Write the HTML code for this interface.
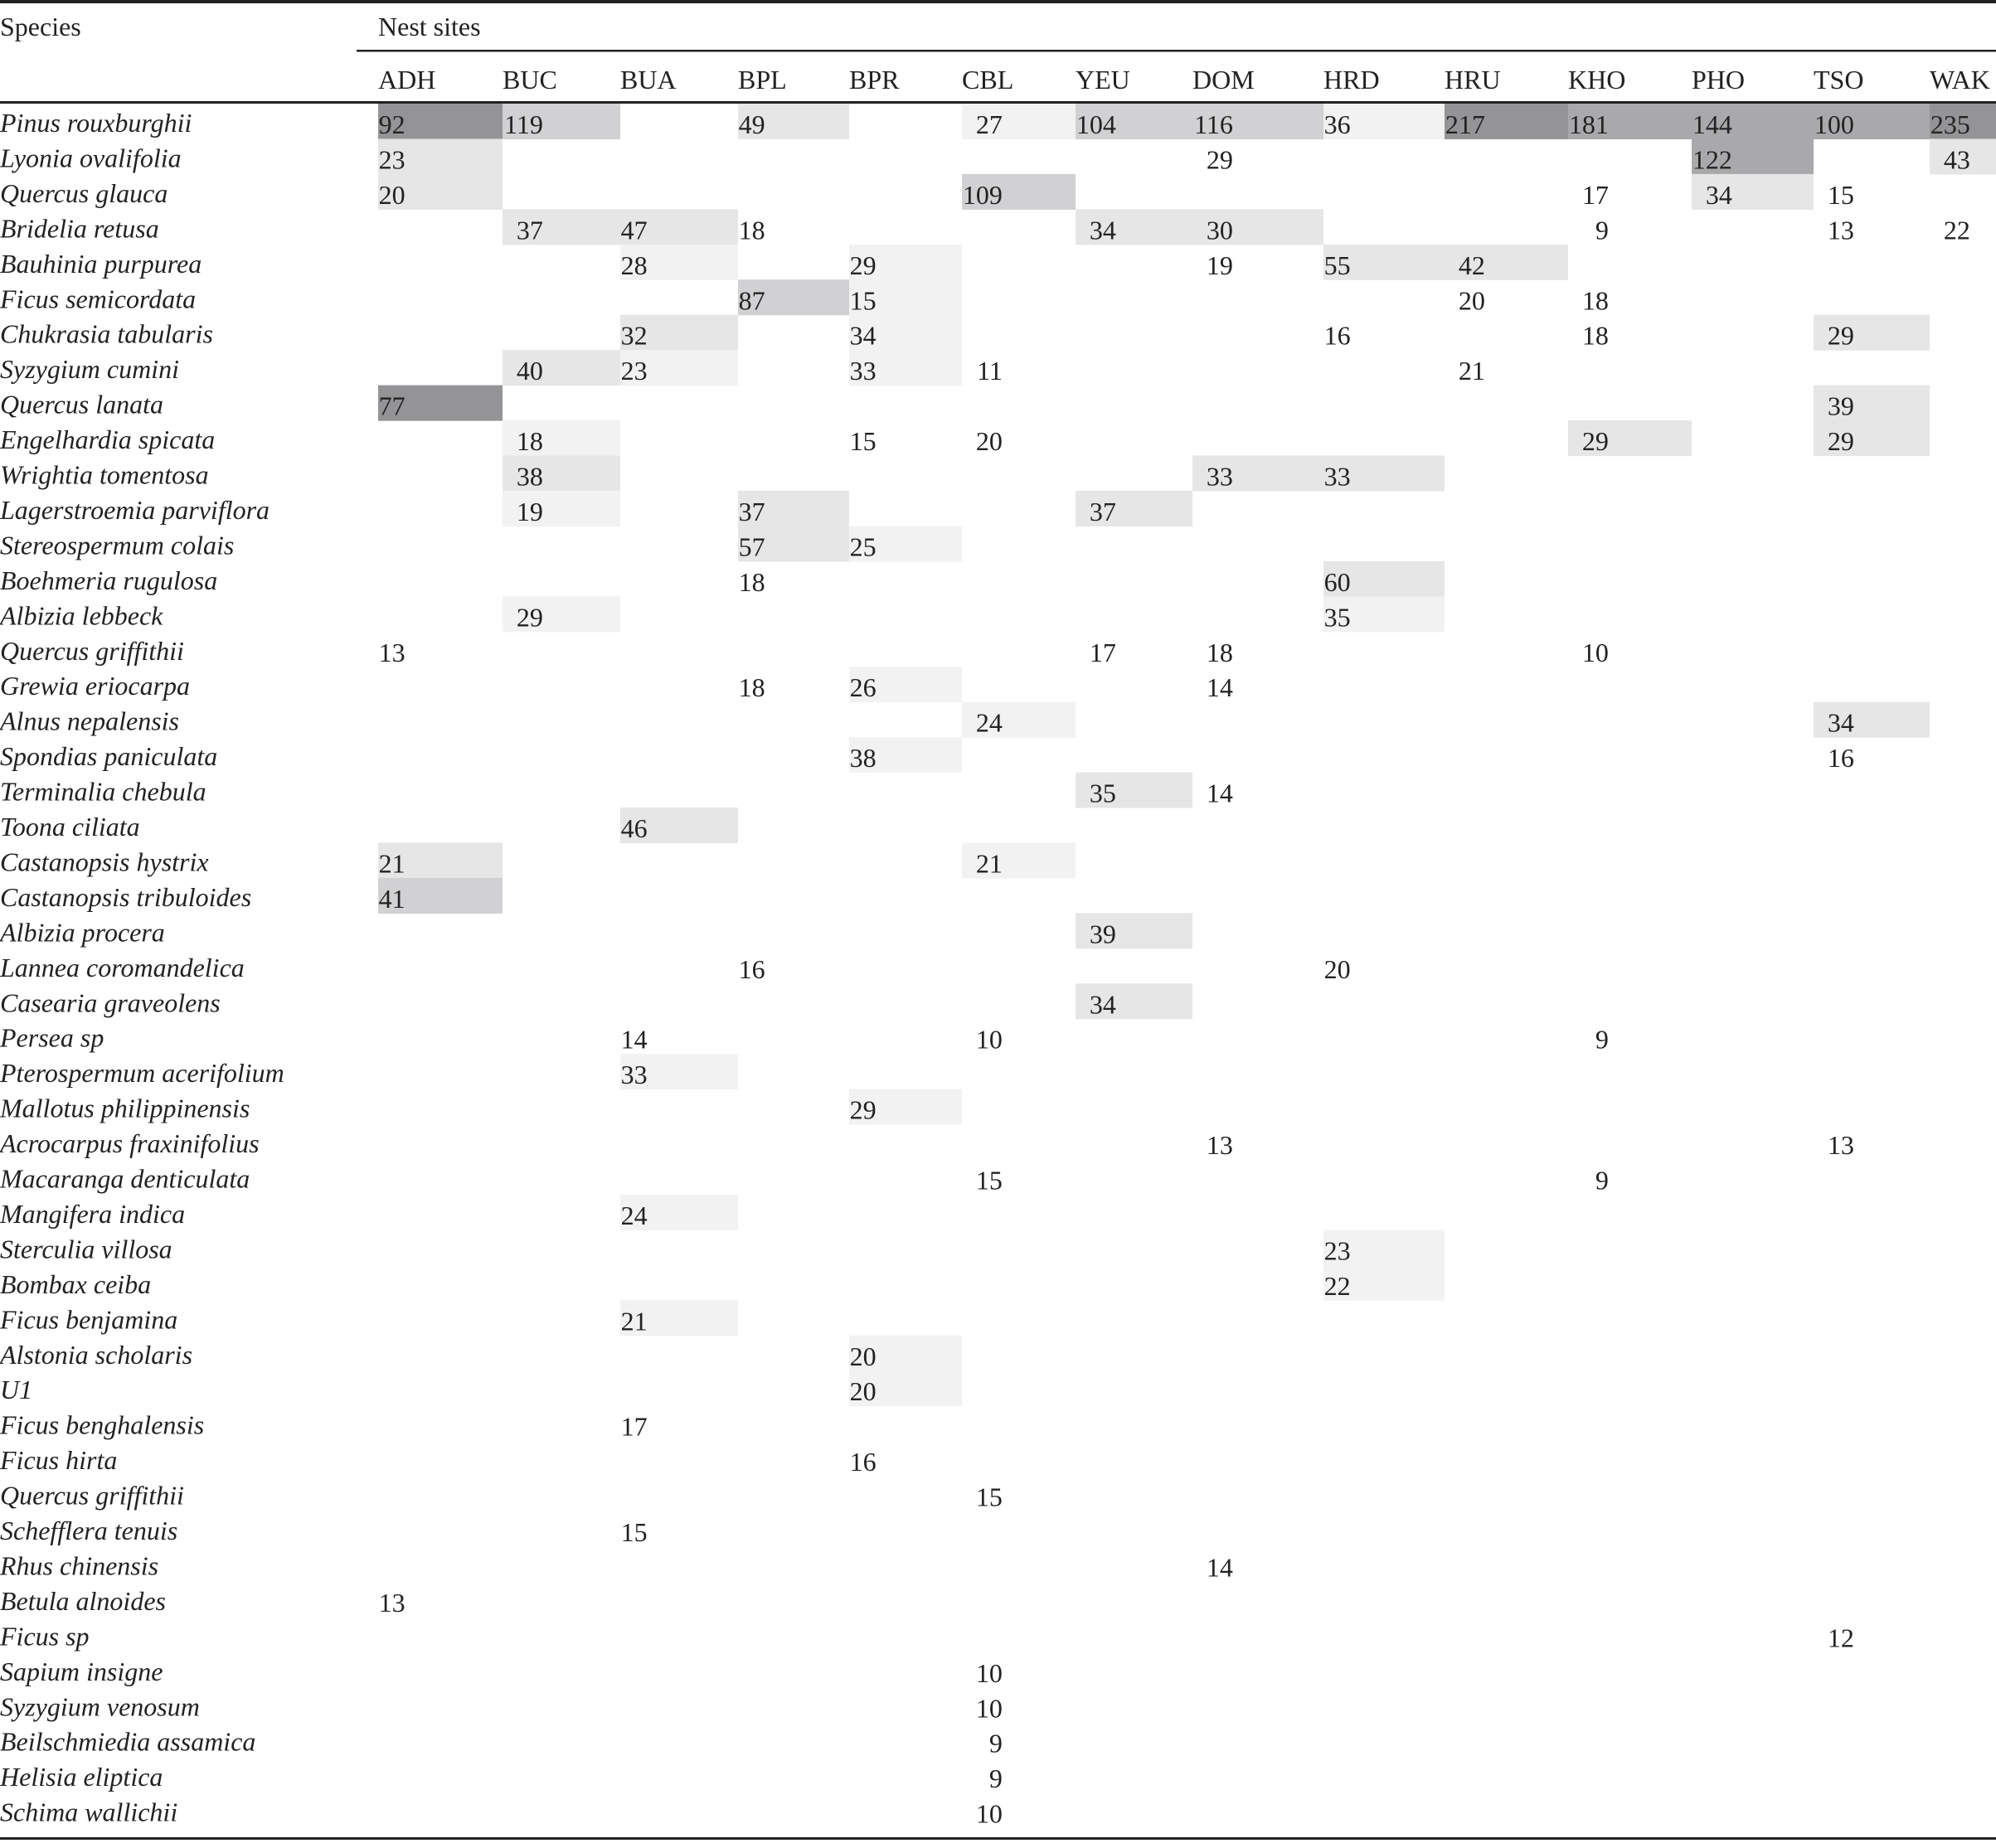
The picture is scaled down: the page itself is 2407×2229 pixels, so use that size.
<!DOCTYPE html>
<html><head><meta charset="utf-8"><style>
html,body{margin:0;padding:0;background:#fff;}
svg{display:block;font-family:"Liberation Serif",serif;}
</style></head><body>
<svg id="tbl" width="2407" height="2229" viewBox="0 0 2407 2229" xmlns="http://www.w3.org/2000/svg">
<rect x="0" y="0" width="2407" height="4" fill="#222"/>
<text x="0" y="43" font-size="32" fill="#222">Species</text>
<text x="456" y="43" font-size="32" fill="#222">Nest sites</text>
<rect x="430" y="60" width="1977" height="2.5" fill="#222"/>
<rect x="0" y="122" width="2407" height="3" fill="#222"/>
<rect x="0" y="2216" width="2407" height="3" fill="#222"/>
<g id="cells"></g><g id="texts"></g>
</svg>
<script>
const sites = ["ADH","BUC","BUA","BPL","BPR","CBL","YEU","DOM","HRD","HRU","KHO","PHO","TSO","WAK"];
const species = ["Pinus rouxburghii","Lyonia ovalifolia","Quercus glauca","Bridelia retusa","Bauhinia purpurea","Ficus semicordata","Chukrasia tabularis","Syzygium cumini","Quercus lanata","Engelhardia spicata","Wrightia tomentosa","Lagerstroemia parviflora","Stereospermum colais","Boehmeria rugulosa","Albizia lebbeck","Quercus griffithii","Grewia eriocarpa","Alnus nepalensis","Spondias paniculata","Terminalia chebula","Toona ciliata","Castanopsis hystrix","Castanopsis tribuloides","Albizia procera","Lannea coromandelica","Casearia graveolens","Persea sp","Pterospermum acerifolium","Mallotus philippinensis","Acrocarpus fraxinifolius","Macaranga denticulata","Mangifera indica","Sterculia villosa","Bombax ceiba","Ficus benjamina","Alstonia scholaris","U1","Ficus benghalensis","Ficus hirta","Quercus griffithii","Schefflera tenuis","Rhus chinensis","Betula alnoides","Ficus sp","Sapium insigne","Syzygium venosum","Beilschmiedia assamica","Helisia eliptica","Schima wallichii"];
// entries: [siteIndex, value, shadeLevel]
const counts = [
[[0,92,5],[1,119,3],[3,49,2],[5,27,1],[6,104,3],[7,116,3],[8,36,1],[9,217,5],[10,181,4],[11,144,4],[12,100,4],[13,235,5]],
[[0,23,2],[7,29,0],[11,122,4],[13,43,2]],
[[0,20,2],[5,109,3],[10,17,0],[11,34,2],[12,15,0]],
[[1,37,2],[2,47,2],[3,18,0],[6,34,2],[7,30,2],[10,9,0],[12,13,0],[13,22,0]],
[[2,28,1],[4,29,1],[7,19,0],[8,55,2],[9,42,2]],
[[3,87,3],[4,15,1],[9,20,0],[10,18,0]],
[[2,32,2],[4,34,1],[8,16,0],[10,18,0],[12,29,2]],
[[1,40,2],[2,23,1],[4,33,1],[5,11,0],[9,21,0]],
[[0,77,5],[12,39,2]],
[[1,18,1],[4,15,0],[5,20,0],[10,29,2],[12,29,2]],
[[1,38,2],[7,33,2],[8,33,2]],
[[1,19,1],[3,37,2],[6,37,2]],
[[3,57,2],[4,25,1]],
[[3,18,0],[8,60,2]],
[[1,29,1],[8,35,1]],
[[0,13,0],[6,17,0],[7,18,0],[10,10,0]],
[[3,18,0],[4,26,1],[7,14,0]],
[[5,24,1],[12,34,2]],
[[4,38,1],[12,16,0]],
[[6,35,2],[7,14,0]],
[[2,46,2]],
[[0,21,2],[5,21,1]],
[[0,41,3]],
[[6,39,2]],
[[3,16,0],[8,20,0]],
[[6,34,2]],
[[2,14,0],[5,10,0],[10,9,0]],
[[2,33,1]],
[[4,29,1]],
[[7,13,0],[12,13,0]],
[[5,15,0],[10,9,0]],
[[2,24,1]],
[[8,23,1]],
[[8,22,1]],
[[2,21,1]],
[[4,20,1]],
[[4,20,1]],
[[2,17,0]],
[[4,16,0]],
[[5,15,0]],
[[2,15,0]],
[[7,14,0]],
[[0,13,0]],
[[12,12,0]],
[[5,10,0]],
[[5,10,0]],
[[5,9,0]],
[[5,9,0]],
[[5,10,0]]
];
const colX = [456,606,748,890,1024,1160,1297,1438,1596,1742,1891,2040,2187,2327,2407];
const shadeColors = ["none","#f2f2f2","#e6e6e6","#d1d1d3","#a9a9ac","#949497"];
const rowTop = 125, rowH = 42.45, digitW = 16.3;
const NS = "http://www.w3.org/2000/svg";
const cellsG = document.getElementById('cells'), textG = document.getElementById('texts');
const maxD = sites.map(()=>1);
counts.forEach(r=>r.forEach(([c,v])=>{maxD[c]=Math.max(maxD[c],String(v).length);}));
sites.forEach((s,i)=>{
  const t=document.createElementNS(NS,'text');
  t.setAttribute('x',colX[i]);t.setAttribute('y',107);t.setAttribute('font-size','32');t.setAttribute('fill','#222');
  t.textContent=s;
  
  
  textG.appendChild(t);
});
species.forEach((sp,r)=>{
  const y=rowTop+r*rowH;
  const t=document.createElementNS(NS,'text');
  t.setAttribute('x',0);t.setAttribute('y',y+34);t.setAttribute('font-size','32');t.setAttribute('font-style','italic');t.setAttribute('fill','#222');
  t.textContent=sp;
  
  
  textG.appendChild(t);
  (counts[r]||[]).forEach(([c,v,sh])=>{
    if(sh>0){
      const rc=document.createElementNS(NS,'rect');
      rc.setAttribute('x',colX[c]);rc.setAttribute('y',y);rc.setAttribute('width',colX[c+1]-colX[c]);rc.setAttribute('height',rowH+0.6);rc.setAttribute('fill',shadeColors[sh]);
      
      
      cellsG.appendChild(rc);
    }
    const n=document.createElementNS(NS,'text');
    n.setAttribute('x',colX[c]+maxD[c]*digitW);n.setAttribute('y',y+36);n.setAttribute('font-size','32');n.setAttribute('text-anchor','end');n.setAttribute('fill','#222');
    n.textContent=v;
    
    
    textG.appendChild(n);
  });
});
</script>
</body></html>
